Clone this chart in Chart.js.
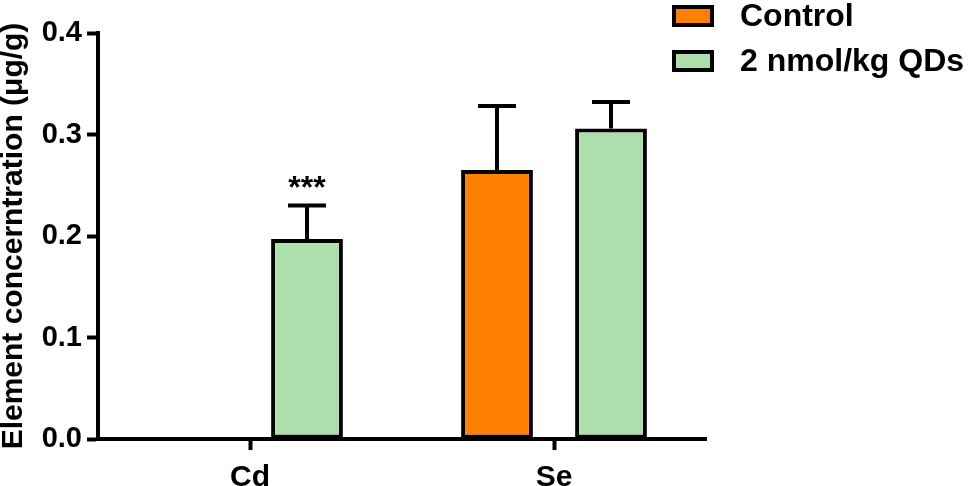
<!DOCTYPE html>
<html lang="en">
<head>
    <meta charset="UTF-8">
    <title>Element concentration</title>
    <script src="https://cdn.jsdelivr.net/npm/chart.js"></script>
    <style>
        html, body { margin: 0; padding: 0; background: #fff; }
        #wrap { width: 970px; height: 486px; }
    </style>
</head>
<body>
    <div id="wrap"><canvas id="elemChart"></canvas></div>

    <script>
        // data
        const categories = ['Cd', 'Se'];
        const seriesNames = ['Control', '2 nmol/kg QDs'];
        const controlMeans = [0, 0.265];
        const controlErr = [0, 0.063];
        const qdsMeans = [0.197, 0.306];
        const qdsErr = [0.033, 0.026];
        const qdsMarks = ['***', ''];
        const yTickLabels = ['0.0', '0.1', '0.2', '0.3', '0.4'];

        const FONT = '"Liberation Sans", Arial, sans-serif';

        // upward error bars + significance stars
        const errorBars = {
            id: 'errorBars',
            afterDatasetsDraw(chart) {
                const ctx = chart.ctx;
                const y = chart.scales.y;
                ctx.save();
                ctx.strokeStyle = '#000';
                ctx.lineWidth = 4;
                chart.data.datasets.forEach((ds, i) => {
                    const meta = chart.getDatasetMeta(i);
                    meta.data.forEach((bar, j) => {
                        const err = ds.errors[j];
                        if (!err) return;
                        const top = y.getPixelForValue(ds.data[j] + err);
                        ctx.beginPath();
                        ctx.moveTo(bar.x, bar.y);
                        ctx.lineTo(bar.x, top);
                        ctx.moveTo(bar.x - 19, top);
                        ctx.lineTo(bar.x + 19, top);
                        ctx.stroke();
                        if (ds.marks && ds.marks[j]) {
                            ctx.fillStyle = '#000';
                            ctx.font = 'bold 32px ' + FONT;
                            ctx.textAlign = 'center';
                            ctx.textBaseline = 'alphabetic';
                            ctx.fillText(ds.marks[j], bar.x, top - 8);
                        }
                    });
                });
                ctx.restore();
            }
        };

        // legend in the top right corner, over the plot
        const cornerLegend = {
            id: 'cornerLegend',
            afterDraw(chart) {
                const ctx = chart.ctx;
                ctx.save();
                chart.data.datasets.forEach((ds, i) => {
                    const cy = 16 + i * 45;
                    ctx.fillStyle = '#000';
                    ctx.fillRect(672, cy - 11, 42, 22);
                    ctx.fillStyle = ds.backgroundColor;
                    ctx.fillRect(676, cy - 7, 34, 14);
                    ctx.fillStyle = '#000';
                    ctx.font = 'bold 32px ' + FONT;
                    ctx.textAlign = 'left';
                    ctx.textBaseline = 'middle';
                    ctx.fillText(ds.label, 740, cy + 1);
                });
                ctx.restore();
            }
        };

        new Chart(document.getElementById('elemChart'), {
            type: 'bar',
            data: {
                labels: categories,
                datasets: [
                    {
                        label: seriesNames[0],
                        data: controlMeans,
                        errors: controlErr,
                        backgroundColor: '#FF8000',
                        borderColor: '#000',
                        borderWidth: 4,
                        borderSkipped: false
                    },
                    {
                        label: seriesNames[1],
                        data: qdsMeans,
                        errors: qdsErr,
                        marks: qdsMarks,
                        backgroundColor: '#ADDFAD',
                        borderColor: '#000',
                        borderWidth: 4,
                        borderSkipped: false
                    }
                ]
            },
            options: {
                responsive: true,
                maintainAspectRatio: false,
                animation: false,
                categoryPercentage: 0.75,
                barPercentage: 0.63,
                layout: { padding: { left: 0, top: 33, right: 264, bottom: 0 } },
                plugins: {
                    legend: { display: false },
                    tooltip: { enabled: false }
                },
                scales: {
                    x: {
                        afterFit: s => { s.height = 47; },
                        grid: {
                            offset: false,
                            drawOnChartArea: false,
                            drawTicks: true,
                            tickLength: 11,
                            tickWidth: 4,
                            tickColor: '#000'
                        },
                        border: { display: true, color: '#000', width: 4 },
                        ticks: {
                            color: '#000',
                            padding: 10,
                            font: { family: FONT, size: 30, weight: 'bold' }
                        }
                    },
                    y: {
                        min: 0,
                        max: 0.4,
                        afterFit: s => { s.width = 98; },
                        grid: {
                            drawOnChartArea: false,
                            drawTicks: true,
                            tickLength: 11,
                            tickWidth: 4,
                            tickColor: '#000'
                        },
                        border: { display: true, color: '#000', width: 4 },
                        ticks: {
                            stepSize: 0.1,
                            color: '#000',
                            padding: 5,
                            font: { family: FONT, size: 29, weight: 'bold' },
                            callback: (v, i) => yTickLabels[i]
                        },
                        title: {
                            display: true,
                            text: 'Element concerntration (μg/g)',
                            color: '#000',
                            padding: 0,
                            font: { family: FONT, size: 30, weight: 'bold', lineHeight: 0.9 }
                        }
                    }
                }
            },
            plugins: [errorBars, cornerLegend]
        });
    </script>
</body>
</html>
